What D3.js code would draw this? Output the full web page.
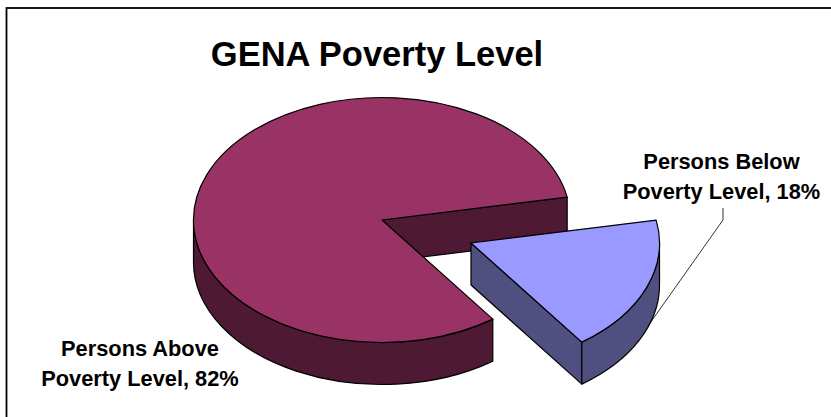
<!DOCTYPE html>
<html><head><meta charset="utf-8">
<script src="https://cdn.jsdelivr.net/npm/d3@7"></script>
<style>html,body{margin:0;padding:0;background:#fff}svg{display:block}text{font-family:"Liberation Sans",Arial,sans-serif;font-weight:bold;fill:#000}</style>
</head><body><svg id="c" width="831" height="417"></svg>
<script>
const categories = ["Persons Above Poverty Level", "Persons Below Poverty Level"];
const values = [82, 18];
const topColors = ["#993366", "#9999ff"];
const sideColors = ["#4d1933", "#4f4f80"];
const titleText = "GENA Poverty Level";
const labelLines = [["Persons Above", "Poverty Level, 82%"], ["Persons Below", "Poverty Level, 18%"]];

const svg = d3.select("#c");
svg.append("rect").attr("x", 6.5).attr("y", 8).attr("width", 900).attr("height", 500)
  .attr("fill", "#fff").attr("stroke", "#000").attr("stroke-width", 1.8);

const cx = 382, cy = 220, rx = 188.5, ry = 122.5, depth = 42;
const explode = [[0, 0], [89, 23]];
const rad = Math.PI / 180;
const startAngle = 144 * rad;
const pie = d3.pie().sort(null).value(d => d).startAngle(startAngle).endAngle(startAngle + 2 * Math.PI);
const arcs = pie(values);

const sx = d3.scaleLinear().domain([-1, 1]).range([-rx, rx]);
const sy = d3.scaleLinear().domain([-1, 1]).range([-ry, ry]);
const pt = a => [sx(Math.sin(a)), sy(-Math.cos(a))];

function topPath(a) {
  const p0 = pt(a.startAngle), p1 = pt(a.endAngle);
  const large = a.endAngle - a.startAngle > Math.PI ? 1 : 0;
  return `M0,0L${p0}A${rx},${ry} 0 ${large} 1 ${p1}Z`;
}
function outerWall(a0, a1) {
  const p0 = pt(a0), p1 = pt(a1);
  return `M${p0}A${rx},${ry} 0 0 1 ${p1}L${p1[0]},${p1[1] + depth}A${rx},${ry} 0 0 0 ${p0[0]},${p0[1] + depth}Z`;
}
function edgeWall(a) {
  const p = pt(a);
  return `M0,0L${p}L${p[0]},${p[1] + depth}L0,${depth}Z`;
}

const east = Math.PI / 2, west = 3 * Math.PI / 2;
const slices = svg.selectAll("g.slice").data(arcs).join("g").attr("class", "slice")
  .attr("transform", (d, i) => `translate(${cx + explode[i][0]},${cy + explode[i][1]})`)
  .attr("stroke", "#000").attr("stroke-width", 1.2).attr("stroke-linejoin", "round");

slices.each(function (d, i) {
  const g = d3.select(this);
  const side = sideColors[i];
  g.append("path").attr("d", edgeWall(d.endAngle)).attr("fill", side);
  g.append("path").attr("d", i === 0 ? outerWall(d.startAngle, west) : outerWall(east, d.endAngle)).attr("fill", side);
  g.append("path").attr("d", topPath(d)).attr("fill", topColors[i]);
});

svg.append("path").attr("d", d3.line()([[723, 208], [723, 220], [648, 326]]))
  .attr("fill", "none").attr("stroke", "#000").attr("stroke-width", 0.8);

svg.append("text").attr("x", 377).attr("y", 66).attr("text-anchor", "middle")
  .attr("font-size", 34.5).text(titleText);

const labelPos = [[140, 356], [721.5, 169]];
labelLines.forEach((lines, i) => {
  lines.forEach((t, j) => {
    svg.append("text").attr("x", labelPos[i][0]).attr("y", labelPos[i][1] + j * 29.5)
      .attr("text-anchor", "middle").attr("font-size", 21.8).text(t);
  });
});
</script></body></html>
